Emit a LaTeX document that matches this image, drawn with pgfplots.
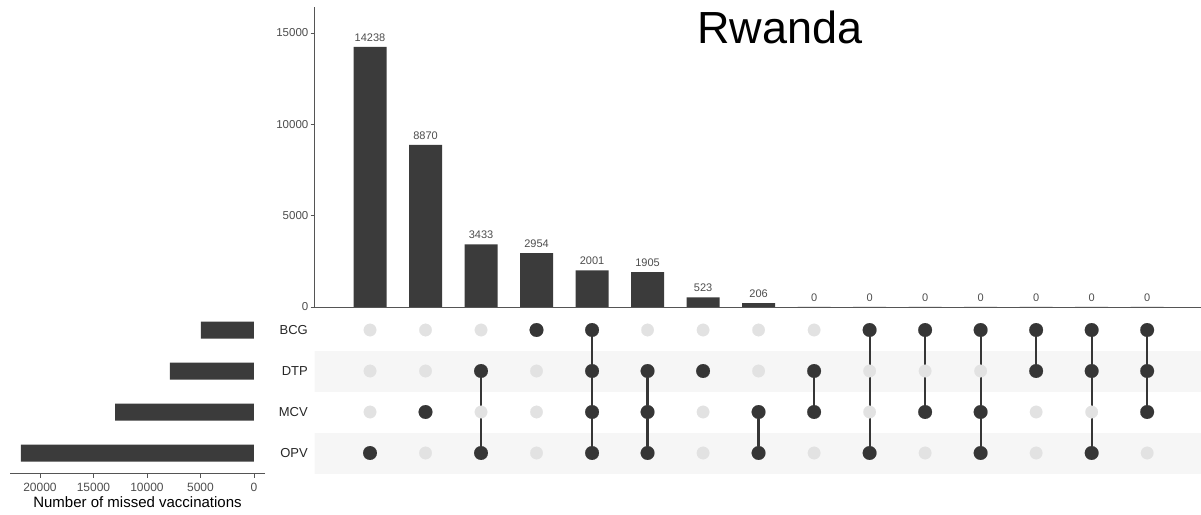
\documentclass[border=0pt]{standalone}
\usepackage{fontspec}
\setmainfont{Liberation Sans}
\usepackage{pgfplots}
\pgfplotsset{compat=1.18}
\definecolor{barc}{HTML}{3B3B3B}
\definecolor{dotc}{HTML}{363636}
\definecolor{lightdot}{HTML}{E2E2E2}
\definecolor{stripe}{HTML}{F6F6F6}
\definecolor{grey30}{HTML}{4D4D4D}
\definecolor{axc}{HTML}{555555}
\begin{document}
\begin{tikzpicture}[x=1pt,y=1pt]
\path[use as bounding box] (0,0) rectangle (1201,514);
% ---------- top: intersection sizes ----------
\begin{axis}[
  scale only axis, at={(314.5pt,207pt)}, anchor=south west,
  width=886.5pt, height=300pt,
  xmin=0, xmax=15.97, ymin=0, ymax=16420,
  axis x line*=bottom, axis y line*=left,
  axis line style={draw=axc, line width=0.9pt, -},
  ybar, bar width=33pt,
  xtick=\empty, ytick={0,5000,10000,15000},
  scaled ticks=false,
  /pgf/number format/assume math mode=true,
  /pgf/number format/1000 sep={},
  tick align=outside, major tick length=4pt,
  ytick style={draw=axc, line width=0.8pt},
  yticklabel style={font=\fontsize{11.5}{12}\selectfont, text=grey30, inner sep=2pt},
  nodes near coords,
  every node near coord/.append style={font=\fontsize{11}{12}\selectfont, text=grey30, yshift=2pt},
  clip=false,
]
\addplot[fill=barc, draw=none] coordinates {
 (1,14238) (2,8870) (3,3433) (4,2954) (5,2001) (6,1905) (7,523) (8,206)
 (9,0) (10,0) (11,0) (12,0) (13,0) (14,0) (15,0)};
\end{axis}
\node[font=\fontsize{45}{50}\selectfont] at (780,487) {Rwanda};
% ---------- matrix ----------
\begin{axis}[
  scale only axis, at={(314.5pt,40.5pt)}, anchor=south west,
  width=886.5pt, height=164pt,
  xmin=0, xmax=15.97, ymin=0.5, ymax=4.5,
  axis x line=none, axis y line*=left,
  y axis line style={draw=none},
  xtick=\empty, ytick={1,2,3,4}, yticklabels={OPV,MCV,DTP,BCG},
  ytick style={draw=none}, major tick length=0pt,
  yticklabel style={font=\fontsize{13}{14}\selectfont, text=black!85, inner sep=0pt, xshift=-6.5pt},
  unbounded coords=jump,
]
\addplot[fill=stripe, draw=none] coordinates {(-0.03,2.5) (15.97,2.5) (15.97,3.5) (-0.03,3.5)} --cycle;
\addplot[fill=stripe, draw=none] coordinates {(-0.03,0.5) (15.97,0.5) (15.97,1.5) (-0.03,1.5)} --cycle;
\addplot[only marks, mark=*, mark size=6.3pt, draw=lightdot, fill=lightdot, mark options={fill=lightdot, draw=lightdot, line width=0.1pt}] coordinates {
 (1,1)(1,2)(1,3)(1,4) (2,1)(2,2)(2,3)(2,4) (3,1)(3,2)(3,3)(3,4) (4,1)(4,2)(4,3)(4,4)
 (5,1)(5,2)(5,3)(5,4) (6,1)(6,2)(6,3)(6,4) (7,1)(7,2)(7,3)(7,4) (8,1)(8,2)(8,3)(8,4)
 (9,1)(9,2)(9,3)(9,4) (10,1)(10,2)(10,3)(10,4) (11,1)(11,2)(11,3)(11,4) (12,1)(12,2)(12,3)(12,4)
 (13,1)(13,2)(13,3)(13,4) (14,1)(14,2)(14,3)(14,4) (15,1)(15,2)(15,3)(15,4)};
\addplot[draw=dotc, line width=2.2pt, no marks] coordinates {
 (3,1)(3,3) (3,nan)
 (5,1)(5,4) (5,nan)
 (6,1)(6,3) (6,nan)
 (8,1)(8,2) (8,nan)
 (9,2)(9,3) (9,nan)
 (10,1)(10,4) (10,nan)
 (11,2)(11,4) (11,nan)
 (12,1)(12,4) (12,nan)
 (13,3)(13,4) (13,nan)
 (14,1)(14,4) (14,nan)
 (15,2)(15,4)};
\addplot[only marks, mark=*, mark size=6.9pt, draw=dotc, fill=dotc, mark options={fill=dotc, draw=dotc, line width=0.1pt}] coordinates {
 (1,1) (2,2) (3,1)(3,3) (4,4) (5,1)(5,2)(5,3)(5,4) (6,1)(6,2)(6,3) (7,3) (8,1)(8,2)
 (9,2)(9,3) (10,1)(10,4) (11,2)(11,4) (12,1)(12,2)(12,4) (13,3)(13,4) (14,1)(14,3)(14,4)
 (15,2)(15,3)(15,4)};
\end{axis}
% ---------- left: set sizes ----------
\begin{axis}[
  scale only axis, at={(10pt,40.5pt)}, anchor=south west,
  width=255pt, height=164pt,
  x dir=reverse, xmin=-1030, xmax=22800, ymin=0.5, ymax=4.5,
  axis x line*=bottom, axis y line=none,
  axis line style={draw=axc, line width=0.9pt, -},
  xbar, bar width=17pt,
  ytick=\empty, xtick={0,5000,10000,15000,20000},
  scaled ticks=false,
  /pgf/number format/assume math mode=true,
  /pgf/number format/1000 sep={},
  tick align=outside, major tick length=4pt,
  xtick style={draw=axc, line width=0.8pt},
  xticklabel style={font=\fontsize{12}{13}\selectfont, text=grey30, inner sep=2pt, yshift=-3pt},
  xlabel={Number of missed vaccinations},
  xlabel style={font=\fontsize{15}{16}\selectfont, text=black, inner sep=0pt, yshift=-3pt},
]
\addplot[fill=barc, draw=none] coordinates {(4955,4) (7862,3) (12982,2) (21783,1)};
\end{axis}
\end{tikzpicture}
\end{document}
